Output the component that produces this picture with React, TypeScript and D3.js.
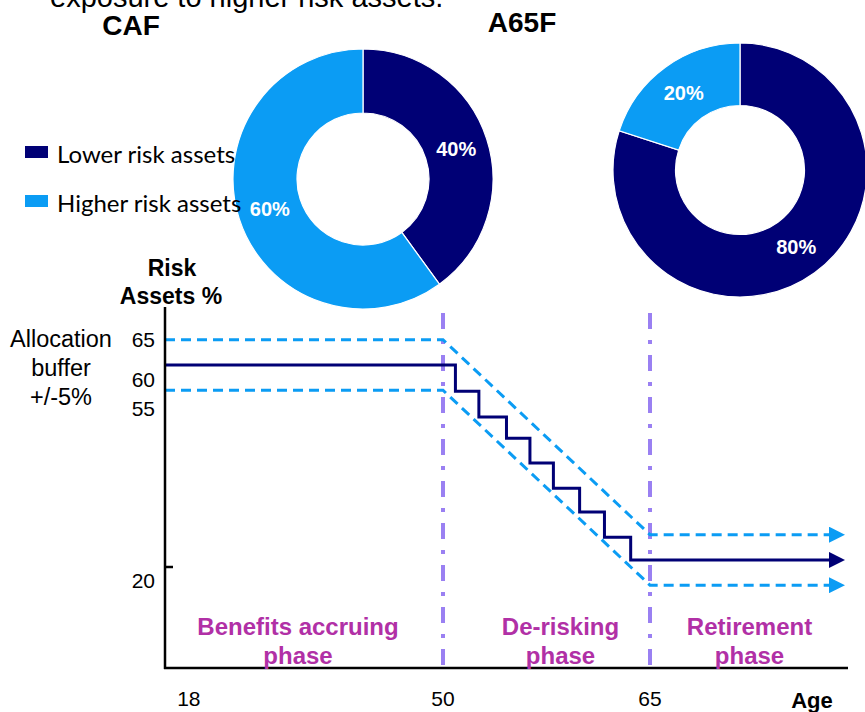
import React from "react";
import * as d3 from "d3";

// --- data ---
const assetClasses = ["Lower risk assets", "Higher risk assets"];
const cafShares = [40, 60];
const a65fShares = [80, 20];

const phaseBoundaries = [50, 65];
const phaseNames = [
  ["Benefits accruing", "phase"],
  ["De-risking", "phase"],
  ["Retirement", "phase"],
];

// step changes of the target allocation during de-risking
const stepAges = [50.9, 52.6, 54.6, 56.3, 58.0, 59.9, 61.7, 63.6];
const stepLevels = [60, 54.8, 49.7, 45.5, 40.6, 35.6, 30.9, 25.9, 21.4];
const bufferSize = 5;

const yTickValues = [65, 60, 55, 20];
const xTickValues = [18, 50, 65];
const ageStart = 15;
const ageEnd = 79;

// --- layout ---
const W = 865;
const H = 712;
const axisY = 668;
const axisTop = 307;
const navy = "#000075";
const light = "#0b9cf4";
const purple = "#9a80f2";
const magenta = "#b130a6";
const font = "'Liberation Sans', Arial, sans-serif";

// the original chart is schematic: ages are not evenly spaced
const x = d3.scaleLinear().domain([ageStart, 50, 65, ageEnd]).range([165, 443, 650, 845]);
const y = d3.scaleLinear().domain([20, 60]).range([567, 365]);
const tickShift: Record<number, number> = {65: 0, 60: 14, 55: 18, 20: 13};

const Donut = ({shares, cx, cy, r, r0}: {shares: number[]; cx: number; cy: number; r: number; r0: number}) => {
  const pie = d3.pie<number>().sort(null).value(d => d)
  const arcs = pie(shares)
  const arc = d3.arc<d3.PieArcDatum<number>>().innerRadius(r0).outerRadius(r)
  return (
    <g transform={`translate(${cx},${cy})`}>
      {arcs.map((a, i) => (
        <path key={i} d={arc(a) || ""} fill={i === 0 ? navy : light} stroke="#fff" strokeWidth={1.2}/>
      ))}
      {arcs.map((a, i) => {
        const [lx, ly] = arc.centroid(a)
        return (
          <text key={"t" + i} x={lx} y={ly} dy="0.35em" textAnchor="middle" fill="#fff"
                fontFamily={font} fontWeight="bold" fontSize={20}>{a.data}%</text>
        )
      })}
    </g>
  )
}

const App = () => {
  const endX = x(ageEnd) - 16

  // solid target line
  const targetPts: [number, number][] = [[ageStart, stepLevels[0]]]
  stepAges.forEach((a, i) => targetPts.push([a, stepLevels[i + 1]]))
  targetPts.push([x.invert(endX), stepLevels[stepLevels.length - 1]])
  const stepLine = d3.line<[number, number]>()
    .x(d => x(d[0]))
    .y(d => y(d[1]))
    .curve(d3.curveStepAfter)

  // buffer bands +/- 5 around the glide path
  const glideStart = stepLevels[0]
  const glideEnd = stepLevels[stepLevels.length - 1]
  const band = (sign: number) => d3.line<[number, number]>()
    .x(d => x(d[0]))
    .y(d => y(d[1]))([
      [ageStart, glideStart + sign * bufferSize],
      [phaseBoundaries[0], glideStart + sign * bufferSize],
      [phaseBoundaries[1], glideEnd + sign * bufferSize],
      [x.invert(endX), glideEnd + sign * bufferSize],
    ]) || ""

  const phaseCenters = [
    (x(ageStart) + x(phaseBoundaries[0])) / 2 - 6,
    (x(phaseBoundaries[0]) + x(phaseBoundaries[1])) / 2 + 14,
    (x(phaseBoundaries[1]) + x(ageEnd)) / 2 + 2,
  ]

  return (
    <svg width={W} height={H} style={{position: "absolute", left: 0, top: 0, background: "#fff"}}>
      <defs>
        {[["arrLight", light], ["arrNavy", navy]].map(([id, c]) => (
          <marker key={id} id={id} viewBox="0 0 16 16" refX={0} refY={8} markerWidth={16} markerHeight={16}
                  markerUnits="userSpaceOnUse" orient="auto">
            <path d="M0,0 L16,8 L0,16 Z" fill={c}/>
          </marker>
        ))}
      </defs>

      <text x={50} y={7} fontFamily={font} fontSize={29} fill="#000">exposure to higher risk assets.</text>
      <text x={131} y={35} textAnchor="middle" fontFamily={font} fontSize={28} fontWeight="bold">CAF</text>
      <text x={522} y={32} textAnchor="middle" fontFamily={font} fontSize={28} fontWeight="bold">A65F</text>

      <Donut shares={cafShares} cx={363} cy={179} r={130} r0={66}/>
      <Donut shares={a65fShares} cx={740} cy={170} r={127} r0={64.5}/>

      {/* legend */}
      {assetClasses.map((c, i) => (
        <g key={c} transform={`translate(25,${146 + i * 49})`}>
          <rect width={23} height={12} fill={i === 0 ? navy : light}/>
          <text x={32} y={17} fontFamily="Lato, 'Open Sans', sans-serif" fontSize={24} fill="#000">{c}</text>
        </g>
      ))}

      {/* axis titles */}
      <text x={172} y={276} textAnchor="middle" fontFamily={font} fontSize={23} fontWeight="bold">Risk</text>
      <text x={171} y={304} textAnchor="middle" fontFamily={font} fontSize={23} fontWeight="bold">Assets %</text>
      {["Allocation", "buffer", "+/-5%"].map((t, i) => (
        <text key={t} x={61} y={347 + i * 29} textAnchor="middle" fontFamily={font} fontSize={23.5}>{t}</text>
      ))}

      {/* phase separators */}
      {phaseBoundaries.map(a => (
        <line key={a} x1={x(a)} x2={x(a)} y1={axisTop + 6} y2={axisY} stroke={purple} strokeWidth={4}
              strokeDasharray="16 11 4 11"/>
      ))}

      {/* buffer bands */}
      {[1, -1].map(s => (
        <path key={s} d={band(s)} fill="none" stroke={light} strokeWidth={3} strokeDasharray="10 6"
              markerEnd="url(#arrLight)"/>
      ))}
      {/* target allocation */}
      <path d={stepLine(targetPts) || ""} fill="none" stroke={navy} strokeWidth={3} markerEnd="url(#arrNavy)"/>

      {/* axes */}
      <line x1={x(ageStart)} x2={x(ageStart)} y1={axisTop} y2={axisY + 1} stroke="#000" strokeWidth={2.5}/>
      <line x1={x(ageStart) - 1} x2={848} y1={axisY} y2={axisY} stroke="#000" strokeWidth={2.5}/>
      <line x1={x(ageStart)} x2={x(ageStart) + 8} y1={y(20)} y2={y(20)} stroke="#000" strokeWidth={2.5}/>

      {yTickValues.map(v => (
        <text key={v} x={155} y={y(v) + tickShift[v]} dy="0.36em" textAnchor="end" fontFamily={font} fontSize={21}>{v}</text>
      ))}
      {xTickValues.map(v => (
        <text key={v} x={x(v)} y={706} textAnchor="middle" fontFamily={font} fontSize={21}>{v}</text>
      ))}
      <text x={812} y={708} textAnchor="middle" fontFamily={font} fontSize={22} fontWeight="bold">Age</text>

      {/* phase labels */}
      {phaseNames.map((lines, i) => (
        <text key={i} textAnchor="middle" fontFamily={font} fontSize={24} fontWeight="bold" fill={magenta}>
          {lines.map((l, j) => (
            <tspan key={j} x={phaseCenters[i]} y={635 + j * 29}>{l}</tspan>
          ))}
        </text>
      ))}
    </svg>
  )
}

export default App;
